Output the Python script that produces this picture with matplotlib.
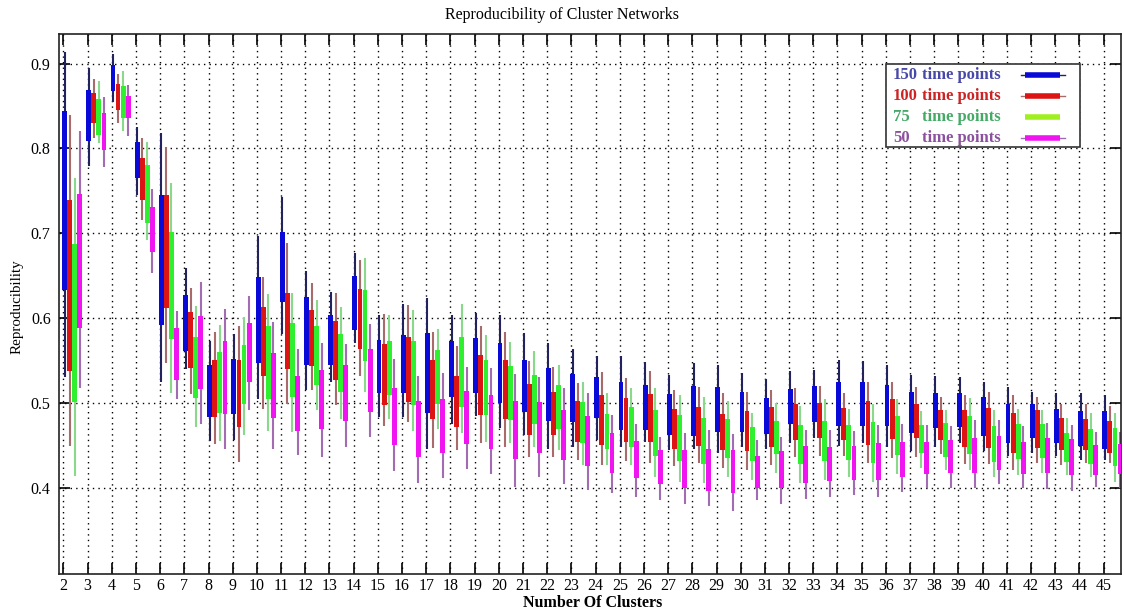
import matplotlib
matplotlib.use("Agg")
import matplotlib.pyplot as plt
from matplotlib.lines import Line2D
from matplotlib.patches import Rectangle
import numpy as np

plt.rcParams['font.family'] = ['Liberation Serif', 'DejaVu Serif']

clusters = list(range(2, 46))
series_names = ["150", "100", "75", "50"]

# columns per cluster: whisker low, q1, q3, whisker high
blue_lo = [0.53, 0.779, 0.855, 0.745, 0.525, 0.54, 0.455, 0.456, 0.505, 0.581, 0.515, 0.524, 0.571, 0.483, 0.483, 0.446, 0.475, 0.484, 0.47, 0.462, 0.446, 0.448, 0.456, 0.448, 0.454, 0.444, 0.446, 0.441, 0.448, 0.446, 0.452, 0.459, 0.449, 0.452, 0.448, 0.443, 0.448, 0.452, 0.443, 0.437, 0.441, 0.437, 0.433, 0.433]
blue_q1 = [0.633, 0.809, 0.868, 0.765, 0.592, 0.561, 0.483, 0.487, 0.547, 0.619, 0.545, 0.545, 0.586, 0.511, 0.511, 0.488, 0.507, 0.511, 0.500, 0.489, 0.478, 0.477, 0.482, 0.468, 0.468, 0.462, 0.461, 0.465, 0.465, 0.463, 0.475, 0.477, 0.473, 0.473, 0.472, 0.464, 0.470, 0.471, 0.461, 0.453, 0.458, 0.452, 0.449, 0.446]
blue_q3 = [0.844, 0.869, 0.898, 0.808, 0.745, 0.627, 0.544, 0.552, 0.648, 0.702, 0.625, 0.604, 0.649, 0.574, 0.580, 0.582, 0.573, 0.576, 0.571, 0.551, 0.541, 0.534, 0.530, 0.524, 0.521, 0.510, 0.520, 0.519, 0.513, 0.506, 0.516, 0.520, 0.524, 0.524, 0.521, 0.513, 0.512, 0.511, 0.507, 0.498, 0.498, 0.493, 0.490, 0.490]
blue_hi = [0.914, 0.895, 0.911, 0.825, 0.818, 0.659, 0.573, 0.581, 0.697, 0.743, 0.656, 0.631, 0.677, 0.604, 0.616, 0.624, 0.603, 0.606, 0.604, 0.582, 0.571, 0.563, 0.555, 0.555, 0.548, 0.533, 0.547, 0.545, 0.535, 0.528, 0.537, 0.539, 0.550, 0.549, 0.545, 0.533, 0.532, 0.530, 0.525, 0.519, 0.513, 0.511, 0.511, 0.509]

red_lo = [0.449, 0.812, 0.830, 0.716, 0.547, 0.510, 0.451, 0.430, 0.493, 0.499, 0.515, 0.497, 0.532, 0.473, 0.477, 0.447, 0.444, 0.453, 0.448, 0.436, 0.436, 0.433, 0.427, 0.431, 0.429, 0.425, 0.429, 0.423, 0.421, 0.427, 0.436, 0.437, 0.437, 0.429, 0.435, 0.436, 0.439, 0.428, 0.428, 0.421, 0.429, 0.427, 0.429, 0.429]
red_q1 = [0.537, 0.830, 0.845, 0.739, 0.612, 0.541, 0.483, 0.471, 0.531, 0.540, 0.543, 0.527, 0.563, 0.497, 0.501, 0.481, 0.471, 0.486, 0.481, 0.462, 0.462, 0.454, 0.450, 0.454, 0.454, 0.446, 0.449, 0.444, 0.443, 0.448, 0.456, 0.458, 0.456, 0.450, 0.457, 0.458, 0.456, 0.448, 0.447, 0.441, 0.447, 0.444, 0.444, 0.441]
red_q3 = [0.739, 0.865, 0.876, 0.789, 0.745, 0.607, 0.550, 0.551, 0.613, 0.630, 0.609, 0.597, 0.634, 0.569, 0.578, 0.550, 0.532, 0.556, 0.551, 0.522, 0.513, 0.502, 0.509, 0.506, 0.510, 0.493, 0.495, 0.487, 0.490, 0.495, 0.499, 0.500, 0.494, 0.502, 0.504, 0.498, 0.491, 0.491, 0.494, 0.488, 0.491, 0.482, 0.481, 0.479]
red_hi = [0.839, 0.882, 0.888, 0.812, 0.802, 0.635, 0.583, 0.591, 0.648, 0.689, 0.641, 0.630, 0.668, 0.605, 0.615, 0.583, 0.567, 0.590, 0.584, 0.549, 0.542, 0.523, 0.536, 0.529, 0.537, 0.515, 0.519, 0.511, 0.513, 0.515, 0.517, 0.520, 0.511, 0.525, 0.525, 0.519, 0.507, 0.509, 0.513, 0.509, 0.507, 0.499, 0.498, 0.496]

green_lo = [0.414, 0.806, 0.821, 0.692, 0.512, 0.471, 0.455, 0.462, 0.467, 0.465, 0.491, 0.481, 0.513, 0.481, 0.467, 0.469, 0.464, 0.454, 0.452, 0.448, 0.444, 0.427, 0.427, 0.427, 0.413, 0.407, 0.405, 0.413, 0.409, 0.417, 0.405, 0.409, 0.413, 0.407, 0.416, 0.423, 0.421, 0.421, 0.413, 0.415, 0.417, 0.415, 0.413, 0.407]
green_q1 = [0.501, 0.816, 0.836, 0.712, 0.575, 0.506, 0.488, 0.498, 0.505, 0.507, 0.521, 0.513, 0.549, 0.509, 0.497, 0.499, 0.495, 0.485, 0.480, 0.475, 0.469, 0.453, 0.446, 0.448, 0.437, 0.431, 0.428, 0.435, 0.431, 0.440, 0.428, 0.431, 0.433, 0.429, 0.438, 0.441, 0.436, 0.440, 0.430, 0.434, 0.435, 0.430, 0.428, 0.425]
green_q3 = [0.687, 0.858, 0.874, 0.780, 0.702, 0.577, 0.560, 0.568, 0.590, 0.594, 0.590, 0.581, 0.633, 0.573, 0.573, 0.562, 0.578, 0.550, 0.543, 0.533, 0.521, 0.501, 0.487, 0.495, 0.491, 0.485, 0.482, 0.481, 0.471, 0.479, 0.474, 0.479, 0.474, 0.477, 0.484, 0.474, 0.476, 0.484, 0.472, 0.475, 0.475, 0.464, 0.469, 0.470]
green_hi = [0.765, 0.880, 0.891, 0.808, 0.759, 0.614, 0.592, 0.601, 0.628, 0.630, 0.621, 0.613, 0.671, 0.603, 0.609, 0.587, 0.616, 0.580, 0.572, 0.561, 0.545, 0.525, 0.512, 0.518, 0.518, 0.509, 0.507, 0.502, 0.488, 0.500, 0.496, 0.504, 0.493, 0.499, 0.504, 0.490, 0.492, 0.506, 0.492, 0.493, 0.492, 0.482, 0.488, 0.488]

mag_lo = [0.518, 0.778, 0.815, 0.653, 0.504, 0.475, 0.445, 0.491, 0.446, 0.438, 0.436, 0.448, 0.460, 0.420, 0.405, 0.411, 0.422, 0.416, 0.401, 0.412, 0.404, 0.397, 0.394, 0.389, 0.385, 0.381, 0.378, 0.372, 0.385, 0.381, 0.386, 0.389, 0.391, 0.389, 0.395, 0.399, 0.399, 0.399, 0.404, 0.399, 0.398, 0.396, 0.401, 0.399]
mag_q1 = [0.588, 0.798, 0.836, 0.678, 0.527, 0.516, 0.487, 0.524, 0.482, 0.467, 0.469, 0.479, 0.489, 0.450, 0.436, 0.441, 0.451, 0.445, 0.434, 0.441, 0.433, 0.425, 0.417, 0.411, 0.404, 0.399, 0.396, 0.394, 0.400, 0.399, 0.405, 0.408, 0.409, 0.409, 0.412, 0.416, 0.417, 0.417, 0.421, 0.416, 0.417, 0.415, 0.415, 0.416]
mag_q3 = [0.746, 0.842, 0.862, 0.731, 0.588, 0.602, 0.573, 0.594, 0.559, 0.532, 0.539, 0.544, 0.564, 0.518, 0.502, 0.505, 0.514, 0.509, 0.502, 0.501, 0.492, 0.484, 0.464, 0.455, 0.444, 0.444, 0.445, 0.444, 0.437, 0.443, 0.449, 0.448, 0.449, 0.452, 0.454, 0.454, 0.456, 0.458, 0.461, 0.454, 0.459, 0.457, 0.450, 0.451]
mag_hi = [0.821, 0.861, 0.875, 0.752, 0.608, 0.643, 0.611, 0.626, 0.595, 0.564, 0.571, 0.569, 0.593, 0.552, 0.532, 0.535, 0.542, 0.541, 0.534, 0.530, 0.518, 0.511, 0.486, 0.475, 0.460, 0.464, 0.468, 0.463, 0.456, 0.460, 0.468, 0.468, 0.467, 0.474, 0.475, 0.474, 0.472, 0.480, 0.480, 0.472, 0.476, 0.474, 0.466, 0.466]

box_colors = ["#0a0ad8", "#dd1414", "#2ef02e", "#f014f0"]
whisker_colors = ["#22225e", "#a86a6a", "#8ad88a", "#a36bb3"]
legend_text_colors = ["#4848a8", "#cc2424", "#44aa66", "#8c509e"]
legend_bar_colors = ["#0a0ad8", "#dd1414", "#a0f020", "#f014f0"]

W, H = 1124, 610
fig = plt.figure(figsize=(W / 100, H / 100), dpi=100)
fig.patch.set_facecolor("white")
ax = fig.add_axes([59 / W, (H - 574) / H, (1121 - 59) / W, (574 - 34) / H])

data = [
    (blue_lo, blue_q1, blue_q3, blue_hi),
    (red_lo, red_q1, red_q3, red_hi),
    (green_lo, green_q1, green_q3, green_hi),
    (mag_lo, mag_q1, mag_q3, mag_hi),
]
offsets = [0.05, 0.26, 0.47, 0.68]
bw = 0.2
x = np.array(clusters, dtype=float)
for i, (lo, q1, q3, hi) in enumerate(data):
    xs = x + offsets[i]
    ax.vlines(xs, lo, hi, colors=whisker_colors[i], lw=1.5, zorder=2)
    ax.bar(xs, np.array(q3) - np.array(q1), bottom=q1, width=bw,
           color=box_colors[i], edgecolor="none", zorder=3)

ax.set_xlim(1.82, 45.72)
ax.set_ylim(0.298, 0.935)
ax.set_xticks(clusters)
ax.set_xticklabels([str(c) for c in clusters])
ax.set_yticks([0.4, 0.5, 0.6, 0.7, 0.8, 0.9])
ax.set_yticklabels(["0.4", "0.5", "0.6", "0.7", "0.8", "0.9"])
ax.tick_params(direction="in", length=8, width=1.2, top=True, right=True,
               labelsize=11.5, colors="black")
ax.tick_params(axis="x", pad=3)
ax.tick_params(axis="y", pad=6)
ax.grid(True, color="black", lw=1.0, linestyle=(0, (1, 3)), zorder=1)
ax.set_axisbelow(True)
for s in ax.spines.values():
    s.set_linewidth(1.2)
    s.set_color("#222222")

fig.text(562 / W, 1 - 15 / H, "Reproducibility of Cluster Networks",
         ha="center", va="center", fontsize=11.5)
fig.text(17 / W, 1 - 307 / H, "Reproducibility", rotation=90,
         ha="center", va="center", fontsize=10.8)
fig.text(593 / W, 1 - 603 / H, "Number Of Clusters", ha="center",
         va="center", fontsize=11.5, fontweight="bold")

# legend box (figure pixel coordinates)
def fx(px):
    return px / W

def fy(py):
    return 1 - py / H

fig.patches.append(Rectangle((fx(886), fy(147)), fx(1080) - fx(886), fy(64) - fy(147),
                             transform=fig.transFigure, facecolor="white",
                             edgecolor="#333333", lw=1.2, zorder=10))
rows = [75, 96, 117, 138]
for i, name in enumerate(series_names):
    y = rows[i]
    fig.text(fx(893), fy(y), name, color=legend_text_colors[i], fontsize=12,
             fontweight="bold", ha="left", va="center", zorder=11)
    fig.text(fx(922), fy(y), "time points", color=legend_text_colors[i], fontsize=12,
             fontweight="bold", ha="left", va="center", zorder=11)
    if i != 2:
        fig.lines.append(Line2D([fx(1021), fx(1065)], [fy(y), fy(y)], transform=fig.transFigure,
                                color=whisker_colors[i], lw=1.0, zorder=11))
    fig.lines.append(Line2D([fx(1025), fx(1060)], [fy(y), fy(y)], transform=fig.transFigure,
                            color=legend_bar_colors[i], lw=4.0, solid_capstyle="butt", zorder=12))

fig.savefig("out.png", dpi=100, facecolor="white")
